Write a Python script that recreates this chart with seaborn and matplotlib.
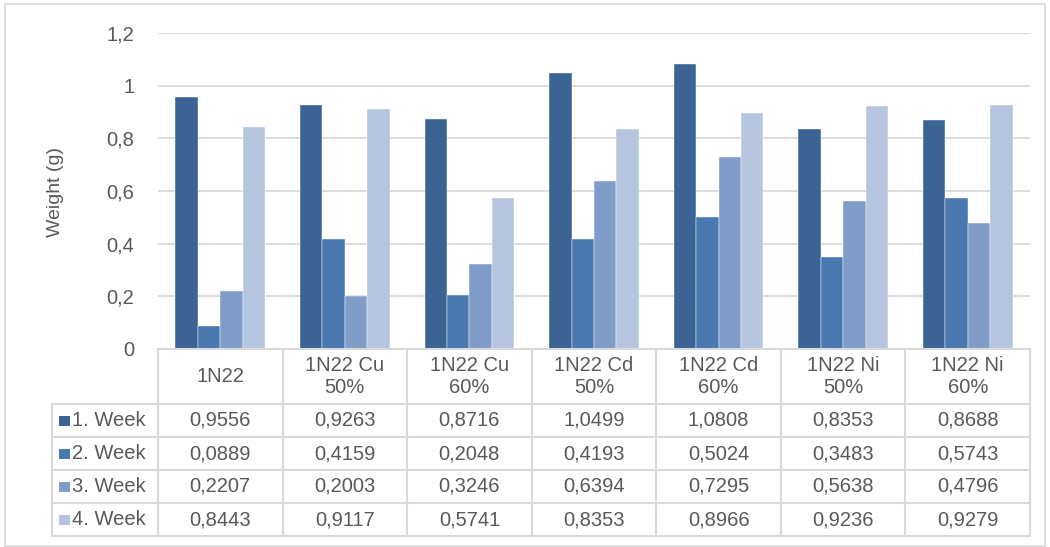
import seaborn as sns
import matplotlib.pyplot as plt
from matplotlib.patches import Rectangle
import pandas as pd

categories = ["1N22", "1N22 Cu\n50%", "1N22 Cu\n60%", "1N22 Cd\n50%",
              "1N22 Cd\n60%", "1N22 Ni\n50%", "1N22 Ni\n60%"]
weeks = ["1. Week", "2. Week", "3. Week", "4. Week"]
week1 = [0.9556, 0.9263, 0.8716, 1.0499, 1.0808, 0.8353, 0.8688]
week2 = [0.0889, 0.4159, 0.2048, 0.4193, 0.5024, 0.3483, 0.5743]
week3 = [0.2207, 0.2003, 0.3246, 0.6394, 0.7295, 0.5638, 0.4796]
week4 = [0.8443, 0.9117, 0.5741, 0.8353, 0.8966, 0.9236, 0.9279]
yticks = [0, 0.2, 0.4, 0.6, 0.8, 1.0, 1.2]

colors = ["#3B6495", "#4A78B0", "#7F9DC8", "#B5C4DF"]
text_color = "#595959"
line_color = "#D9D9D9"

series = [week1, week2, week3, week4]
df = pd.DataFrame({
    "Sample": [c for _ in weeks for c in categories],
    "Week": [w for w in weeks for _ in categories],
    "Weight": [v for s in series for v in s],
})


def fmt(v):
    return f"{v:.4f}".replace(".", ",")


sns.set_style("white")
plt.rcParams["font.family"] = ["Liberation Sans", "DejaVu Sans"]

W, H = 1050, 547
fig = plt.figure(figsize=(W / 100, H / 100), dpi=100)


def box(x0, y0, x1, y1):
    return [x0 / W, 1 - y1 / H, (x1 - x0) / W, (y1 - y0) / H]


# outer chart frame
fig.add_artist(Rectangle((5 / W, 1 - 546 / H), 1040 / W, 542 / H,
                         transform=fig.transFigure, fill=False,
                         edgecolor=line_color, lw=1.2))

# bars
ax = fig.add_axes(box(158, 33, 1030, 349))
sns.barplot(data=df, x="Sample", y="Weight", hue="Week", palette=colors,
            width=0.72, saturation=1, ax=ax, legend=False,
            edgecolor="white", linewidth=0.3)
ax.set_xlim(-0.5, len(categories) - 0.5)
ax.set_ylim(0, 1.2)
ax.set_yticks(yticks)
ax.set_yticklabels([("%g" % t).replace(".", ",") for t in yticks],
                   fontsize=14.5, color=text_color)
ax.tick_params(axis="y", length=0, pad=17)
ax.set_xticks([])
ax.set_xlabel("")
ax.set_ylabel("")
ax.grid(axis="y", color=line_color, lw=1.3)
ax.set_axisbelow(True)
for s in ax.spines.values():
    s.set_visible(False)
fig.text(55 / W, 1 - 192 / H, "Weight (g)", rotation=90, ha="center",
         va="center", fontsize=14, color=text_color)

# data table under the bars
tax = fig.add_axes(box(52, 349, 1030, 536))
col_w = 872 / len(categories)
left = -0.5 - (158 - 52) / col_w
right = len(categories) - 0.5
tax.set_xlim(left, right)
tax.set_ylim(187, 0)
tax.axis("off")

row_edges = [55, 88, 121, 154, 187]
tax.plot([-0.5, right], [0, 0], color=line_color, lw=1.5, clip_on=False)
for y in row_edges:
    tax.plot([left, right], [y, y], color=line_color, lw=1.5, clip_on=False)
for i in range(len(categories) + 1):
    tax.plot([i - 0.5, i - 0.5], [0, 187], color=line_color, lw=1.5,
             clip_on=False)
tax.plot([left, left], [55, 187], color=line_color, lw=1.5, clip_on=False)

for i, c in enumerate(categories):
    tax.text(i, 27.5, c, ha="center", va="center", fontsize=14.5,
             color=text_color, linespacing=1.15)

for r, (w, s, col) in enumerate(zip(weeks, series, colors)):
    yc = (row_edges[r] + row_edges[r + 1]) / 2
    tax.add_patch(Rectangle((left + 7 / col_w, yc - 5), 11 / col_w, 10,
                            facecolor=col, edgecolor="none", clip_on=False))
    tax.text(left + 20 / col_w, yc, w, ha="left", va="center",
             fontsize=14.5, color=text_color)
    for i, v in enumerate(s):
        tax.text(i, yc, fmt(v), ha="center", va="center", fontsize=14.5,
                 color=text_color)

fig.savefig("out.png", dpi=100, facecolor="white")
